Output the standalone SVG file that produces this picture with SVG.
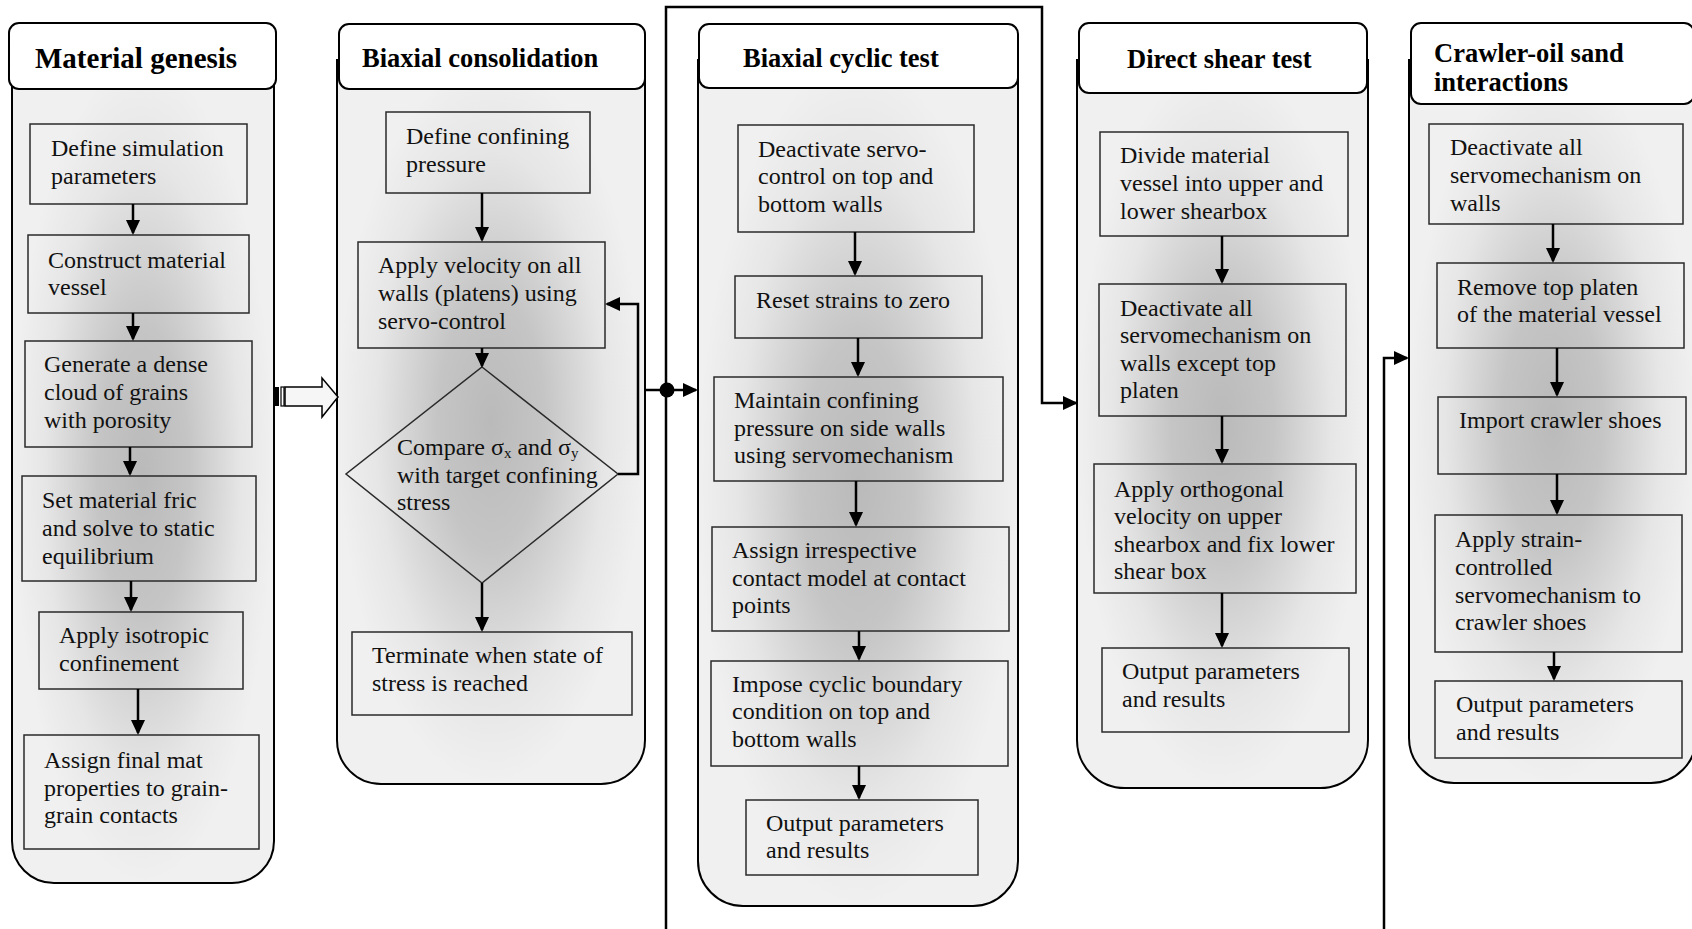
<svg xmlns="http://www.w3.org/2000/svg" width="1692" height="929" viewBox="0 0 1692 929">
  <defs>
    <radialGradient id="shade" cx="0.5" cy="0.5" r="0.5">
      <stop offset="0" stop-color="#bababa"/>
      <stop offset="0.35" stop-color="#c5c5c5"/>
      <stop offset="0.75" stop-color="#e6e6e6"/>
      <stop offset="1" stop-color="#f0f0f0"/>
    </radialGradient>
    <marker id="ah" markerUnits="userSpaceOnUse" markerWidth="16" markerHeight="16" refX="13" refY="7" orient="auto">
      <path d="M0,0 L15,7 L0,14 Z" fill="#000"/>
    </marker>
    <style>
      .body { fill: url(#shade); stroke: #000; stroke-width: 2; }
      .head { fill: #fff; stroke: #000; stroke-width: 2; }
      .step { fill: none; stroke: #2a2a2a; stroke-width: 1.5; }
      .t { font-family: "Liberation Serif", "Times New Roman", serif; font-size: 24px; fill: #111; }
      .h { font-family: "Liberation Serif", "Times New Roman", serif; font-weight: bold; font-size: 26.5px; fill: #000; }
      .wire { fill: none; stroke: #000; stroke-width: 2.5; }
      .arr { marker-end: url(#ah); }
    </style>
  </defs>
  <rect width="1692" height="929" fill="#fff"/>

  <!-- Stage 1 -->
  <g id="material-genesis">
    <path class="body" d="M12,60 H274 V841 A42,42 0 0 1 232,883 H54 A42,42 0 0 1 12,841 Z"/>
    <rect class="head" x="9" y="23" width="267" height="66" rx="10"/>
    <text class="h" x="35" y="68" style="font-size:29px">Material genesis</text>
    <g id="mg-define"><rect class="step" x="30" y="124" width="217" height="80"/>
      <text class="t" x="51" y="156">Define simulation</text><text class="t" x="51" y="184">parameters</text></g>
    <g id="mg-vessel"><rect class="step" x="28" y="235" width="221" height="78"/>
      <text class="t" x="48" y="268">Construct material</text><text class="t" x="48" y="295">vessel</text></g>
    <g id="mg-generate"><rect class="step" x="25" y="341" width="227" height="106"/>
      <text class="t" x="44" y="372">Generate a dense</text><text class="t" x="44" y="400">cloud of grains</text><text class="t" x="44" y="428">with porosity</text></g>
    <g id="mg-fric"><rect class="step" x="22" y="476" width="234" height="105"/>
      <text class="t" x="42" y="508">Set material fric</text><text class="t" x="42" y="536">and solve to static</text><text class="t" x="42" y="564">equilibrium</text></g>
    <g id="mg-isotropic"><rect class="step" x="39" y="612" width="204" height="77"/>
      <text class="t" x="59" y="643">Apply isotropic</text><text class="t" x="59" y="671">confinement</text></g>
    <g id="mg-assign"><rect class="step" x="24" y="735" width="235" height="114"/>
      <text class="t" x="44" y="768">Assign final mat</text><text class="t" x="44" y="796">properties to grain-</text><text class="t" x="44" y="823">grain contacts</text></g>
  </g>

  <!-- Stage 2 -->
  <g id="biaxial-consolidation">
    <path class="body" d="M337,60 H645 V740 A44,44 0 0 1 601,784 H381 A44,44 0 0 1 337,740 Z"/>
    <rect class="head" x="339" y="24" width="306" height="65" rx="10"/>
    <text class="h" x="362" y="67">Biaxial consolidation</text>
    <g id="bc-define"><rect class="step" x="386" y="112" width="204" height="81"/>
      <text class="t" x="406" y="144">Define confining</text><text class="t" x="406" y="172">pressure</text></g>
    <g id="bc-velocity"><rect class="step" x="358" y="242" width="247" height="106"/>
      <text class="t" x="378" y="273">Apply velocity on all</text><text class="t" x="378" y="301">walls (platens) using</text><text class="t" x="378" y="329">servo-control</text></g>
    <g id="bc-compare"><polygon class="step" points="482,367 618,474 482,583 346,474"/>
      <text class="t" x="397" y="455">Compare σ<tspan font-size="15" dy="3">x</tspan><tspan dy="-3"> and σ</tspan><tspan font-size="15" dy="3">y</tspan></text>
      <text class="t" x="397" y="483">with target confining</text><text class="t" x="397" y="510">stress</text></g>
    <g id="bc-terminate"><rect class="step" x="352" y="632" width="280" height="83"/>
      <text class="t" x="372" y="663">Terminate when state of</text><text class="t" x="372" y="691">stress is reached</text></g>
  </g>

  <!-- Stage 3 -->
  <g id="biaxial-cyclic-test">
    <path class="body" d="M698,60 H1018 V861 A45,45 0 0 1 973,906 H743 A45,45 0 0 1 698,861 Z"/>
    <rect class="head" x="699" y="24" width="319" height="64" rx="10"/>
    <text class="h" x="743" y="67">Biaxial cyclic test</text>
    <g id="ct-deactivate"><rect class="step" x="738" y="125" width="236" height="107"/>
      <text class="t" x="758" y="157">Deactivate servo-</text><text class="t" x="758" y="184">control on top and</text><text class="t" x="758" y="212">bottom walls</text></g>
    <g id="ct-reset"><rect class="step" x="735" y="276" width="247" height="62"/>
      <text class="t" x="756" y="308">Reset strains to zero</text></g>
    <g id="ct-maintain"><rect class="step" x="714" y="377" width="289" height="104"/>
      <text class="t" x="734" y="408">Maintain confining</text><text class="t" x="734" y="436">pressure on side walls</text><text class="t" x="734" y="463">using servomechanism</text></g>
    <g id="ct-contact"><rect class="step" x="712" y="527" width="297" height="104"/>
      <text class="t" x="732" y="558">Assign irrespective</text><text class="t" x="732" y="586">contact model at contact</text><text class="t" x="732" y="613">points</text></g>
    <g id="ct-cyclic"><rect class="step" x="711" y="661" width="297" height="105"/>
      <text class="t" x="732" y="692">Impose cyclic boundary</text><text class="t" x="732" y="719">condition on top and</text><text class="t" x="732" y="747">bottom walls</text></g>
    <g id="ct-output"><rect class="step" x="746" y="800" width="232" height="75"/>
      <text class="t" x="766" y="831">Output parameters</text><text class="t" x="766" y="858">and results</text></g>
  </g>

  <!-- Stage 4 -->
  <g id="direct-shear-test">
    <path class="body" d="M1077,60 H1368 V740 A48,48 0 0 1 1320,788 H1125 A48,48 0 0 1 1077,740 Z"/>
    <rect class="head" x="1079" y="23" width="288" height="70" rx="10"/>
    <text class="h" x="1127" y="68">Direct shear test</text>
    <g id="ds-divide"><rect class="step" x="1100" y="132" width="248" height="104"/>
      <text class="t" x="1120" y="163">Divide material</text><text class="t" x="1120" y="191">vessel into upper and</text><text class="t" x="1120" y="219">lower shearbox</text></g>
    <g id="ds-deactivate"><rect class="step" x="1099" y="284" width="247" height="132"/>
      <text class="t" x="1120" y="316">Deactivate all</text><text class="t" x="1120" y="343">servomechanism on</text><text class="t" x="1120" y="371">walls except top</text><text class="t" x="1120" y="398">platen</text></g>
    <g id="ds-velocity"><rect class="step" x="1094" y="464" width="262" height="129"/>
      <text class="t" x="1114" y="497">Apply orthogonal</text><text class="t" x="1114" y="524">velocity on upper</text><text class="t" x="1114" y="552">shearbox and fix lower</text><text class="t" x="1114" y="579">shear box</text></g>
    <g id="ds-output"><rect class="step" x="1102" y="648" width="247" height="84"/>
      <text class="t" x="1122" y="679">Output parameters</text><text class="t" x="1122" y="707">and results</text></g>
  </g>

  <!-- Stage 5 -->
  <g id="crawler-oil-sand">
    <path class="body" d="M1409,60 H1696 V738 A45,45 0 0 1 1651,783 H1454 A45,45 0 0 1 1409,738 Z"/>
    <rect class="head" x="1411" y="23" width="283" height="81" rx="10"/>
    <text class="h" x="1434" y="62">Crawler-oil sand</text>
    <text class="h" x="1434" y="91">interactions</text>
    <g id="co-deactivate"><rect class="step" x="1429" y="124" width="254" height="100"/>
      <text class="t" x="1450" y="155">Deactivate all</text><text class="t" x="1450" y="183">servomechanism on</text><text class="t" x="1450" y="211">walls</text></g>
    <g id="co-remove"><rect class="step" x="1437" y="263" width="247" height="85"/>
      <text class="t" x="1457" y="295">Remove top platen</text><text class="t" x="1457" y="322">of the material vessel</text></g>
    <g id="co-import"><rect class="step" x="1438" y="397" width="248" height="77"/>
      <text class="t" x="1459" y="428">Import crawler shoes</text></g>
    <g id="co-strain"><rect class="step" x="1435" y="515" width="247" height="137"/>
      <text class="t" x="1455" y="547">Apply strain-</text><text class="t" x="1455" y="575">controlled</text><text class="t" x="1455" y="603">servomechanism to</text><text class="t" x="1455" y="630">crawler shoes</text></g>
    <g id="co-output"><rect class="step" x="1435" y="681" width="247" height="77"/>
      <text class="t" x="1456" y="712">Output parameters</text><text class="t" x="1456" y="740">and results</text></g>
  </g>

  <!-- Flow lines -->
  <g id="connectors">
    <!-- stage 1 -->
    <path class="wire arr" d="M133,204 V233"/>
    <path class="wire arr" d="M133,313 V339"/>
    <path class="wire arr" d="M130,447 V474"/>
    <path class="wire arr" d="M131,581 V610"/>
    <path class="wire arr" d="M138,689 V733"/>
    <!-- hand-over from stage 1 to stage 2 -->
    <g id="handover-arrow">
      <rect x="275" y="387" width="4" height="19" fill="#000"/>
      <rect x="281" y="387" width="3" height="19" fill="#fff" stroke="#000" stroke-width="1.2"/>
      <polygon points="285,387 322,387 322,378 338,397 322,417 322,406 285,406" fill="#f6f6f6" stroke="#000" stroke-width="1.5"/>
    </g>
    <!-- stage 2 -->
    <path class="wire arr" d="M482,193 V240"/>
    <path class="wire arr" d="M482,348 V366"/>
    <path class="wire arr" d="M482,583 V630"/>
    <path class="wire arr" d="M618,474 H638 V304 H607"/>
    <!-- distribution bus -->
    <path class="wire" d="M645,390 H667"/>
    <circle cx="667" cy="390" r="7.5" fill="#000"/>
    <path class="wire arr" d="M667,390 H696"/>
    <path class="wire arr" d="M666,929 V7 H1042 V403 H1076"/>
    <path class="wire arr" d="M1384,929 V358 H1407"/>
    <!-- stage 3 -->
    <path class="wire arr" d="M855,232 V274"/>
    <path class="wire arr" d="M858,338 V375"/>
    <path class="wire arr" d="M856,481 V525"/>
    <path class="wire arr" d="M859,631 V659"/>
    <path class="wire arr" d="M859,766 V798"/>
    <!-- stage 4 -->
    <path class="wire arr" d="M1222,236 V282"/>
    <path class="wire arr" d="M1222,416 V462"/>
    <path class="wire arr" d="M1222,593 V646"/>
    <!-- stage 5 -->
    <path class="wire arr" d="M1553,224 V261"/>
    <path class="wire arr" d="M1557,348 V395"/>
    <path class="wire arr" d="M1557,474 V513"/>
    <path class="wire arr" d="M1554,652 V679"/>
  </g>
</svg>
